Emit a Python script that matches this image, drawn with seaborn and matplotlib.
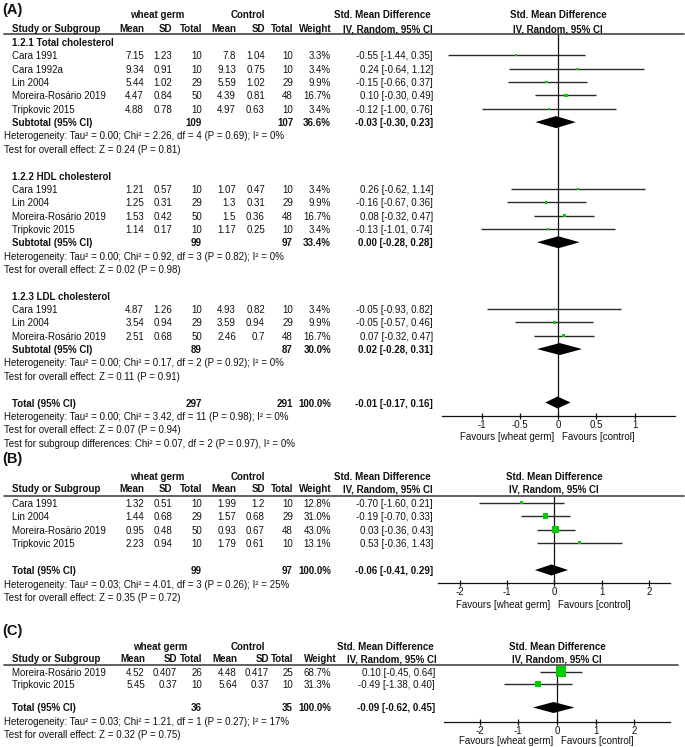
import numpy as np
import matplotlib
matplotlib.use("Agg")
import matplotlib.pyplot as plt
from matplotlib.lines import Line2D
import seaborn as sns

# ---------------- data ----------------
# Panel A (subgroups)
A_group_names = ["1.2.1 Total cholesterol", "1.2.2 HDL cholesterol", "1.2.3 LDL cholesterol"]
A_group = [0, 0, 0, 0, 0, 1, 1, 1, 1, 2, 2, 2]
A_study = ["Cara 1991", "Cara 1992a", "Lin 2004", "Moreira-Rosário 2019", "Tripkovic 2015",
           "Cara 1991", "Lin 2004", "Moreira-Rosário 2019", "Tripkovic 2015",
           "Cara 1991", "Lin 2004", "Moreira-Rosário 2019"]
A_mean1 = [7.15, 9.34, 5.44, 4.47, 4.88, 1.21, 1.25, 1.53, 1.14, 4.87, 3.54, 2.51]
A_sd1 = [1.23, 0.91, 1.02, 0.84, 0.78, 0.57, 0.31, 0.42, 0.17, 1.26, 0.94, 0.68]
A_n1 = [10, 10, 29, 50, 10, 10, 29, 50, 10, 10, 29, 50]
A_mean2 = [7.8, 9.13, 5.59, 4.39, 4.97, 1.07, 1.3, 1.5, 1.17, 4.93, 3.59, 2.46]
A_sd2 = [1.04, 0.75, 1.02, 0.81, 0.63, 0.47, 0.31, 0.36, 0.25, 0.82, 0.94, 0.7]
A_n2 = [10, 10, 29, 48, 10, 10, 29, 48, 10, 10, 29, 48]
A_weight = [3.3, 3.4, 9.9, 16.7, 3.4, 3.4, 9.9, 16.7, 3.4, 3.4, 9.9, 16.7]
A_smd = [-0.55, 0.24, -0.15, 0.10, -0.12, 0.26, -0.16, 0.08, -0.13, -0.05, -0.05, 0.07]
A_lo = [-1.44, -0.64, -0.66, -0.30, -1.00, -0.62, -0.67, -0.32, -1.01, -0.93, -0.57, -0.32]
A_hi = [0.35, 1.12, 0.37, 0.49, 0.76, 1.14, 0.36, 0.47, 0.74, 0.82, 0.46, 0.47]
A_sub_n1 = [109, 99, 89]
A_sub_n2 = [107, 97, 87]
A_sub_weight = [36.6, 33.4, 30.0]
A_sub_smd = [-0.03, 0.00, 0.02]
A_sub_lo = [-0.30, -0.28, -0.28]
A_sub_hi = [0.23, 0.28, 0.31]
A_sub_het = ["Heterogeneity: Tau² = 0.00; Chi² = 2.26, df = 4 (P = 0.69); I² = 0%",
             "Heterogeneity: Tau² = 0.00; Chi² = 0.92, df = 3 (P = 0.82); I² = 0%",
             "Heterogeneity: Tau² = 0.00; Chi² = 0.17, df = 2 (P = 0.92); I² = 0%"]
A_sub_z = ["Test for overall effect: Z = 0.24 (P = 0.81)",
           "Test for overall effect: Z = 0.02 (P = 0.98)",
           "Test for overall effect: Z = 0.11 (P = 0.91)"]
A_tot = dict(n1=297, n2=291, w=100.0, smd=-0.01, lo=-0.17, hi=0.16)
A_tot_text = ["Heterogeneity: Tau² = 0.00; Chi² = 3.42, df = 11 (P = 0.98); I² = 0%",
              "Test for overall effect: Z = 0.07 (P = 0.94)",
              "Test for subgroup differences: Chi² = 0.07, df = 2 (P = 0.97), I² = 0%"]
A_ticks = [-1, -0.5, 0, 0.5, 1]
A_ticklabels = ["-1", "-0.5", "0", "0.5", "1"]

# Panel B
B_study = ["Cara 1991", "Lin 2004", "Moreira-Rosário 2019", "Tripkovic 2015"]
B_mean1 = [1.32, 1.44, 0.95, 2.23]
B_sd1 = [0.51, 0.68, 0.48, 0.94]
B_n1 = [10, 29, 50, 10]
B_mean2 = [1.99, 1.57, 0.93, 1.79]
B_sd2 = [1.2, 0.68, 0.67, 0.61]
B_n2 = [10, 29, 48, 10]
B_weight = [12.8, 31.0, 43.0, 13.1]
B_smd = [-0.70, -0.19, 0.03, 0.53]
B_lo = [-1.60, -0.70, -0.36, -0.36]
B_hi = [0.21, 0.33, 0.43, 1.43]
B_tot = dict(n1=99, n2=97, w=100.0, smd=-0.06, lo=-0.41, hi=0.29)
B_tot_text = ["Heterogeneity: Tau² = 0.03; Chi² = 4.01, df = 3 (P = 0.26); I² = 25%",
              "Test for overall effect: Z = 0.35 (P = 0.72)"]
B_ticks = [-2, -1, 0, 1, 2]
B_ticklabels = ["-2", "-1", "0", "1", "2"]

# Panel C
C_study = ["Moreira-Rosário 2019", "Tripkovic 2015"]
C_mean1 = [4.52, 5.45]
C_sd1 = [0.407, 0.37]
C_n1 = [26, 10]
C_mean2 = [4.48, 5.64]
C_sd2 = [0.417, 0.37]
C_n2 = [25, 10]
C_weight = [68.7, 31.3]
C_smd = [0.10, -0.49]
C_lo = [-0.45, -1.38]
C_hi = [0.64, 0.40]
C_tot = dict(n1=36, n2=35, w=100.0, smd=-0.09, lo=-0.62, hi=0.45)
C_tot_text = ["Heterogeneity: Tau² = 0.03; Chi² = 1.21, df = 1 (P = 0.27); I² = 17%",
              "Test for overall effect: Z = 0.32 (P = 0.75)"]
C_ticks = [-2, -1, 0, 1, 2]
C_ticklabels = ["-2", "-1", "0", "1", "2"]

# ---------------- style ----------------
sns.set_theme(style="white")
plt.rcParams["font.family"] = ["Liberation Sans", "DejaVu Sans"]
plt.rcParams["axes.unicode_minus"] = False

W, H = 685, 747
fig = plt.figure(figsize=(W / 100, H / 100), dpi=100)
FS = 7.0
TXT = "#111111"
GREEN = "#00CC00"


def T(x, y, s, ha="left", bold=False, size=FS, color=TXT):
    fig.text(x / W, 1 - y / H, s, ha=ha, va="center", fontsize=size,
             fontweight="bold" if bold else "normal", color=color)


def hrule(y, x0=4, x1=684):
    fig.add_artist(Line2D([x0 / W, x1 / W], [1 - y / H, 1 - y / H],
                          transform=fig.transFigure, color="#555555", lw=1.3))


def fmt_ci(e, l, h):
    return f"{e:.2f} [{l:.2f}, {h:.2f}]"


def make_ax(x_left, x_right, y_top, y_bot, xlim):
    ax = fig.add_axes([x_left / W, 1 - y_bot / H, (x_right - x_left) / W, (y_bot - y_top) / H])
    ax.set_xlim(*xlim)
    ax.set_ylim(y_bot, y_top)
    for s in ["top", "left", "right"]:
        ax.spines[s].set_visible(False)
    ax.spines["bottom"].set_color("#111111")
    ax.spines["bottom"].set_linewidth(0.9)
    ax.set_yticks([])
    ax.patch.set_alpha(0)
    ax.axvline(0, color="#111111", lw=0.9, zorder=1)
    return ax


def finish_ax(ax, ticks, labels):
    ax.set_xticks(ticks)
    ax.set_xticklabels(labels, fontsize=FS, color=TXT)
    ax.tick_params(axis="x", direction="inout", length=5, width=0.9, pad=0.5,
                   bottom=True, color="#111111")
    ax.set_xlabel("")
    ax.set_ylabel("")


def squares(ax, smd, lo, hi, weight, ys):
    ax.hlines(ys, lo, hi, color="#2a2a2a", lw=1.0, zorder=2)
    sizes = [((1.5 + 0.125 * w) * 0.72) ** 2 for w in weight]
    sns.scatterplot(x=np.array(smd), y=np.array(ys), s=sizes, marker="s",
                    color=GREEN, linewidth=0, legend=False, ax=ax, zorder=3)


def diamond(ax, e, l, h, y, half=6):
    ax.fill([l, e, h, e], [y, y - half, y, y + half], color="black", lw=0, zorder=4)


def header(y1, y2, rule_y, c, ax):
    T(c["wg"], y1, "wheat germ", ha="center", bold=True)
    T(c["ctl"], y1, "Control", ha="center", bold=True)
    T(c["smdh"], y1, "Std. Mean Difference", ha="center", bold=True)
    T(12, y2, "Study or Subgroup", bold=True)
    T(c["m1"], y2, "Mean", ha="right", bold=True)
    T(c["s1"], y2, "SD", ha="right", bold=True)
    T(c["n1"], y2, "Total", ha="right", bold=True)
    T(c["m2"], y2, "Mean", ha="right", bold=True)
    T(c["s2"], y2, "SD", ha="right", bold=True)
    T(c["n2"], y2, "Total", ha="right", bold=True)
    T(c["wh"], y2, "Weight", ha="right", bold=True)
    T(c["cih"], y2, "IV, Random, 95% CI", ha="right", bold=True)
    hrule(rule_y, x1=c["rule_end"])
    tr = ax.get_xaxis_transform()
    for yy, s in [(y1, "Std. Mean Difference"), (y2, "IV, Random, 95% CI")]:
        fig.text(0, 1 - yy / H, s, ha="center", va="center", fontsize=FS, fontweight="bold",
                 color=TXT, transform=matplotlib.transforms.blended_transform_factory(
                     ax.transData, fig.transFigure))


def study_row(y, c, name, m1, s1, n1, m2, s2, n2, w, e, l, h):
    T(12, y, name)
    T(c["m1"], y, str(m1), ha="right")
    T(c["s1"], y, str(s1), ha="right")
    T(c["n1"], y, str(n1), ha="right")
    T(c["m2"], y, str(m2), ha="right")
    T(c["s2"], y, str(s2), ha="right")
    T(c["n2"], y, str(n2), ha="right")
    T(c["w"], y, f"{w:.1f}%", ha="right")
    T(c["ci"], y, fmt_ci(e, l, h), ha="right")


def total_row(y, c, label, n1, n2, w, e, l, h):
    T(12, y, label, bold=True)
    T(c["n1"], y, str(n1), ha="right", bold=True)
    T(c["n2"], y, str(n2), ha="right", bold=True)
    T(c["w"], y, f"{w:.1f}%", ha="right", bold=True)
    T(c["ci"], y, fmt_ci(e, l, h), ha="right", bold=True)


def favours(ax, y):
    tr = matplotlib.transforms.blended_transform_factory(ax.transData, fig.transFigure)
    off = matplotlib.transforms.offset_copy(tr, fig=fig, x=-4, units="dots")
    off2 = matplotlib.transforms.offset_copy(tr, fig=fig, x=4, units="dots")
    fig.text(0, 1 - y / H, "Favours [wheat germ]", ha="right", va="center", fontsize=FS,
             color=TXT, transform=off)
    fig.text(0, 1 - y / H, "Favours [control]", ha="left", va="center", fontsize=FS,
             color=TXT, transform=off2)


colsAB = dict(m1=144, s1=172, n1=202, m2=236, s2=265, n2=293, w=331, wh=332, ci=433, cih=433,
              wg=157.5, ctl=247.5, smdh=382.5, rule_end=684)
colsC = dict(m1=145, s1=177, n1=202, m2=237, s2=269, n2=293, w=331, wh=337, ci=435, cih=437,
             wg=160.5, ctl=248, smdh=385, rule_end=678)

# ---------------- Panel A ----------------
step = 13.35
axA = make_ax(441.6, 675.0, 34, 416, (-1.53, 1.53))
T(2, 10, "(A)", bold=True, size=10.5)
header(15, 29, 34, colsAB, axA)
y = 43
for g, gname in enumerate(A_group_names):
    T(12, y, gname, bold=True)
    y += step
    idx = [i for i, gg in enumerate(A_group) if gg == g]
    ys = []
    for i in idx:
        study_row(y, colsAB, A_study[i], A_mean1[i], A_sd1[i], A_n1[i], A_mean2[i], A_sd2[i],
                  A_n2[i], A_weight[i], A_smd[i], A_lo[i], A_hi[i])
        ys.append(y - 1)
        y += step
    squares(axA, [A_smd[i] for i in idx], [A_lo[i] for i in idx], [A_hi[i] for i in idx],
            [A_weight[i] for i in idx], ys)
    total_row(y, colsAB, "Subtotal (95% CI)", A_sub_n1[g], A_sub_n2[g], A_sub_weight[g],
              A_sub_smd[g], A_sub_lo[g], A_sub_hi[g])
    diamond(axA, A_sub_smd[g], A_sub_lo[g], A_sub_hi[g], y - 1)
    y += step
    T(4, y, A_sub_het[g])
    y += step
    T(4, y, A_sub_z[g])
    y += 2 * step
total_row(403.5, colsAB, "Total (95% CI)", A_tot["n1"], A_tot["n2"], A_tot["w"],
          A_tot["smd"], A_tot["lo"], A_tot["hi"])
diamond(axA, A_tot["smd"], A_tot["lo"], A_tot["hi"], 402.5)
for k, s in enumerate(A_tot_text):
    T(4, 416.9 + k * step, s)
finish_ax(axA, A_ticks, A_ticklabels)
favours(axA, 437)

# ---------------- Panel B ----------------
axB = make_ax(438.4, 670.2, 495.7, 583, (-2.45, 2.45))
T(2, 459, "(B)", bold=True, size=10.5)
header(476.7, 489, 495.7, colsAB, axB)
ysB = []
for i in range(len(B_study)):
    yy = 503.8 + i * step
    study_row(yy, colsAB, B_study[i], B_mean1[i], B_sd1[i], B_n1[i], B_mean2[i], B_sd2[i],
              B_n2[i], B_weight[i], B_smd[i], B_lo[i], B_hi[i])
    ysB.append(yy - 1)
squares(axB, B_smd, B_lo, B_hi, B_weight, ysB)
total_row(571.2, colsAB, "Total (95% CI)", B_tot["n1"], B_tot["n2"], B_tot["w"],
          B_tot["smd"], B_tot["lo"], B_tot["hi"])
diamond(axB, B_tot["smd"], B_tot["lo"], B_tot["hi"], 570, half=5.5)
for k, s in enumerate(B_tot_text):
    T(4, 584.5 + k * step, s)
finish_ax(axB, B_ticks, B_ticklabels)
favours(axB, 605)

# ---------------- Panel C ----------------
axC = make_ax(443.7, 670.3, 665, 721.7, (-2.925, 2.925))
T(2, 631, "(C)", bold=True, size=10.5)
header(646.7, 659, 665, colsC, axC)
ysC = []
for i in range(len(C_study)):
    yy = 672.5 + i * 12.5
    study_row(yy, colsC, C_study[i], C_mean1[i], C_sd1[i], C_n1[i], C_mean2[i], C_sd2[i],
              C_n2[i], C_weight[i], C_smd[i], C_lo[i], C_hi[i])
    ysC.append(yy - 1)
squares(axC, C_smd, C_lo, C_hi, C_weight, ysC)
total_row(708.3, colsC, "Total (95% CI)", C_tot["n1"], C_tot["n2"], C_tot["w"],
          C_tot["smd"], C_tot["lo"], C_tot["hi"])
diamond(axC, C_tot["smd"], C_tot["lo"], C_tot["hi"], 707.5, half=5.5)
for k, s in enumerate(C_tot_text):
    T(4, 722 + k * 13, s)
finish_ax(axC, C_ticks, C_ticklabels)
favours(axC, 740.5)

for ax, xl in [(axA, (-1.53, 1.53)), (axB, (-2.45, 2.45)), (axC, (-2.925, 2.925))]:
    ax.set_xlim(*xl)

fig.savefig("out.png", dpi=100)
